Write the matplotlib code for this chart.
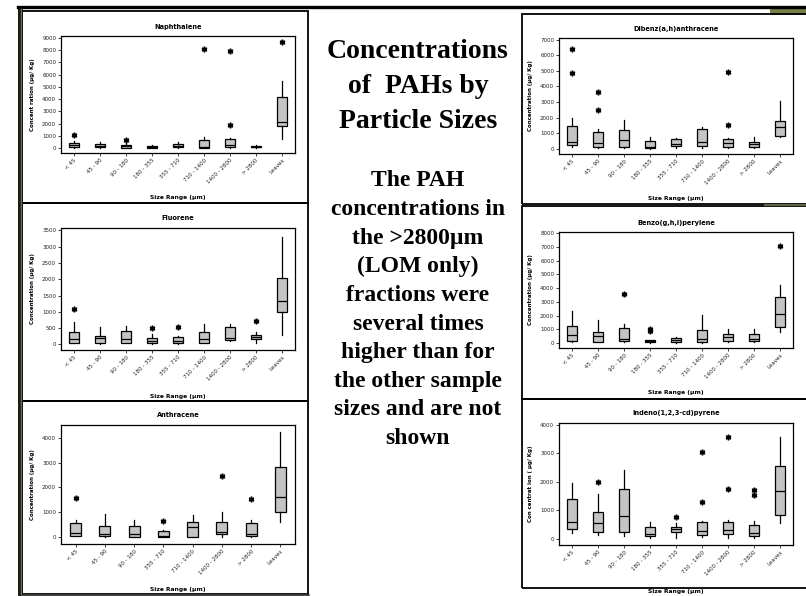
import matplotlib.pyplot as plt
from matplotlib.patches import Rectangle
from matplotlib.lines import Line2D

# size classes on the x axis
sizes = ["< 45", "45 - 90", "90 - 180", "180 - 355", "355 - 710",
         "710 - 1400", "1400 - 2800", "> 2800", "Leaves"]
sizes_anth = ["< 45", "45 - 90", "90 - 180", "355 - 710",
              "710 - 1400", "1400 - 2800", "> 2800", "Leaves"]

# Naphthalene
naph_lo = [0, 20, 0, 0, 20, 0, 30, 0, 740]
naph_q1 = [100, 60, 40, 20, 50, 20, 100, 60, 1800]
naph_med = [250, 200, 150, 80, 150, 100, 250, 120, 2130]
naph_q3 = [450, 350, 280, 150, 300, 700, 750, 200, 4180]
naph_hi = [600, 500, 400, 250, 500, 900, 800, 250, 5490]
naph_out = [[1050], [], [700], [], [], [8100], [7950, 1850], [], [8690]]

# Fluorene
fluo_lo = [30, 20, 30, 10, 10, 30, 100, 50, 290]
fluo_q1 = [50, 50, 50, 30, 30, 50, 120, 150, 1000]
fluo_med = [165, 180, 150, 90, 90, 160, 190, 220, 1330]
fluo_q3 = [390, 270, 400, 200, 210, 390, 545, 280, 2040]
fluo_hi = [700, 540, 570, 320, 240, 620, 625, 380, 3300]
fluo_out = [[1080], [], [], [510], [540], [], [], [720], []]

# Anthracene (no 180 - 355 class)
anth_lo = [40, 30, 0, 0, 0, 30, 0, 610]
anth_q1 = [70, 40, 30, 0, 0, 130, 40, 1010]
anth_med = [160, 150, 120, 70, 400, 230, 120, 1620]
anth_q3 = [560, 470, 450, 270, 630, 615, 560, 2820]
anth_hi = [680, 950, 680, 300, 900, 1030, 680, 4230]
anth_out = [[1590], [], [], [670], [], [2470], [1540], []]

# Dibenz(a,h)anthracene
dib_lo = [130, 40, 60, 20, 40, 60, 40, 40, 750]
dib_q1 = [280, 130, 130, 80, 170, 210, 130, 130, 810]
dib_med = [430, 380, 580, 150, 320, 430, 380, 300, 1410]
dib_q3 = [1450, 1090, 1240, 530, 640, 1280, 640, 430, 1770]
dib_hi = [1980, 1280, 1860, 750, 700, 1400, 680, 750, 3050]
dib_out = [[6420, 4860], [3620, 2520], [], [], [], [], [4950, 1530], [], []]

# Benzo(g,h,i)perylene
benz_lo = [50, 50, 60, 20, 20, 30, 60, 60, 800]
benz_q1 = [170, 70, 170, 50, 50, 70, 150, 150, 1170]
benz_med = [610, 490, 290, 120, 240, 270, 410, 270, 2120]
benz_q3 = [1220, 780, 1070, 190, 360, 970, 660, 660, 3360]
benz_hi = [2310, 1700, 1410, 240, 410, 2070, 1050, 1020, 4260]
benz_out = [[], [], [3600], [1000, 870], [], [], [], [], [7100]]

# Indeno(1,2,3-cd)pyrene
ind_lo = [220, 140, 120, 50, 30, 80, 40, 40, 550]
ind_q1 = [340, 260, 250, 120, 230, 130, 180, 120, 840]
ind_med = [580, 550, 820, 175, 340, 280, 330, 220, 1680]
ind_q3 = [1390, 940, 1740, 430, 430, 600, 610, 490, 2540]
ind_hi = [1950, 1580, 2420, 610, 550, 630, 650, 630, 3570]
ind_out = [[], [1990], [], [], [780], [3030, 1310], [3560, 1750], [1720, 1540], []]

title_lines = ["Concentrations", "of  PAHs by", "Particle Sizes"]
body_lines = ["The PAH", "concentrations in", "the >2800\u00b5m", "(LOM only)",
              "fractions were", "several times", "higher than for",
              "the other sample", "sizes and are not", "shown"]

W, H = 806, 596
fig = plt.figure(figsize=(W / 100, H / 100), dpi=100)


def rect(x0, y0, x1, y1):
    return [x0 / W, 1 - y1 / H, (x1 - x0) / W, (y1 - y0) / H]


def frame(x0, y0, x1, y1, lw=1.3, color='black'):
    fig.add_artist(Rectangle((x0 / W, 1 - y1 / H), (x1 - x0) / W, (y1 - y0) / H,
                             transform=fig.transFigure, fill=False, lw=lw, ec=color))


def hline(x0, x1, y, lw, color):
    fig.add_artist(Line2D([x0 / W, x1 / W], [1 - y / H, 1 - y / H],
                          transform=fig.transFigure, lw=lw, color=color))


def vline(x, y0, y1, lw, color):
    fig.add_artist(Line2D([x / W, x / W], [1 - y0 / H, 1 - y1 / H],
                          transform=fig.transFigure, lw=lw, color=color))


def panel(pos, title, ylabel, cats, lo, q1, med, q3, hi, out, yticks, ylim):
    ax = fig.add_axes(rect(*pos))
    stats = [dict(whislo=a, q1=b, med=c, q3=d, whishi=e, fliers=f)
             for a, b, c, d, e, f in zip(lo, q1, med, q3, hi, out)]
    n = len(cats)
    ax.bxp(stats, positions=range(1, n + 1), widths=0.37, patch_artist=True,
           showcaps=False,
           boxprops=dict(facecolor='#c4c4c4', edgecolor='black', linewidth=0.9),
           medianprops=dict(color='black', linewidth=0.9),
           whiskerprops=dict(color='black', linewidth=0.9),
           flierprops=dict(marker=(6, 2, 0), markersize=4,
                           markeredgecolor='black', markeredgewidth=1.1))
    ax.set_xlim(0.5, n + 0.5)
    ax.set_ylim(*ylim)
    ax.set_yticks(yticks)
    ax.set_xticks(range(1, n + 1))
    ax.set_xticklabels(cats, rotation=45, ha='right', rotation_mode='anchor')
    ax.tick_params(labelsize=4, length=2, width=0.6, pad=1.5, colors='#222222')
    for s in ax.spines.values():
        s.set_linewidth(0.9)
    ax.text(0.5, 1.08, title, transform=ax.transAxes, ha='center', va='center',
            fontsize=4.8, fontweight='bold')
    ax.set_ylabel(ylabel, fontsize=4, fontweight='bold')
    ax.yaxis.set_label_coords(-0.112, 0.5)
    ax.set_xlabel("Size Range (\u00b5m)", fontsize=4.3, fontweight='bold')
    ax.xaxis.set_label_coords(0.5, -0.36)
    return ax


# left column
panel((61, 36, 295, 153), "Naphthalene", "Concent ration (\u00b5g/ Kg)", sizes,
      naph_lo, naph_q1, naph_med, naph_q3, naph_hi, naph_out,
      range(0, 9001, 1000), (-400, 9150))
panel((61, 228, 295, 350), "Fluorene", "Concentration (\u00b5g/ Kg)", sizes,
      fluo_lo, fluo_q1, fluo_med, fluo_q3, fluo_hi, fluo_out,
      range(0, 3501, 500), (-175, 3575))
panel((61, 425, 295, 544), "Anthracene", "Concentration (\u00b5g/ Kg)", sizes_anth,
      anth_lo, anth_q1, anth_med, anth_q3, anth_hi, anth_out,
      range(0, 4001, 1000), (-270, 4510))

# right column
panel((559, 38, 793, 154), "Dibenz(a,h)anthracene", "Concentration (\u00b5g/ Kg)", sizes,
      dib_lo, dib_q1, dib_med, dib_q3, dib_hi, dib_out,
      range(0, 7001, 1000), (-320, 7100))
panel((559, 232, 793, 348), "Benzo(g,h,i)perylene", "Concentration (\u00b5g/ Kg)", sizes,
      benz_lo, benz_q1, benz_med, benz_q3, benz_hi, benz_out,
      range(0, 8001, 1000), (-365, 8100))
panel((559, 423, 793, 545), "Indeno(1,2,3-cd)pyrene", "Con centrat ion ( \u00b5g/ Kg)", sizes,
      ind_lo, ind_q1, ind_med, ind_q3, ind_hi, ind_out,
      range(0, 4001, 1000), (-210, 4060))

# slide decorations
hline(18, 806, 6.5, 2.4, 'black')
fig.add_artist(Rectangle((770 / W, 1 - 15 / H), 36 / W, 7 / H,
                         transform=fig.transFigure, color='#76804a', lw=0))
fig.add_artist(Rectangle((18 / W, 0), 5 / W, 1 - 6 / H,
                         transform=fig.transFigure, color='#1e1e1e', lw=0))
vline(21, 9, 596, 1.0, '#6a7248')
frame(22, 11, 308, 203)
frame(22, 203, 308, 401)
frame(22, 401, 308, 594)
hline(22, 308, 594.5, 1.8, '#444444')
frame(522, 14, 812, 204)
frame(522, 206, 812, 399)
frame(522, 399, 812, 588)
hline(765, 806, 205, 1.5, '#5d6540')

# centre text
for i, line in enumerate(title_lines):
    fig.text(418 / W, 1 - (52 + 34.5 * i) / H, line, ha='center', va='center',
             fontsize=20, fontweight='bold', family='Liberation Serif')
for i, line in enumerate(body_lines):
    fig.text(418 / W, 1 - (181 + 28.6 * i) / H, line, ha='center', va='center',
             fontsize=17, fontweight='bold', family='Liberation Serif')

fig.savefig("out.png", dpi=100)
